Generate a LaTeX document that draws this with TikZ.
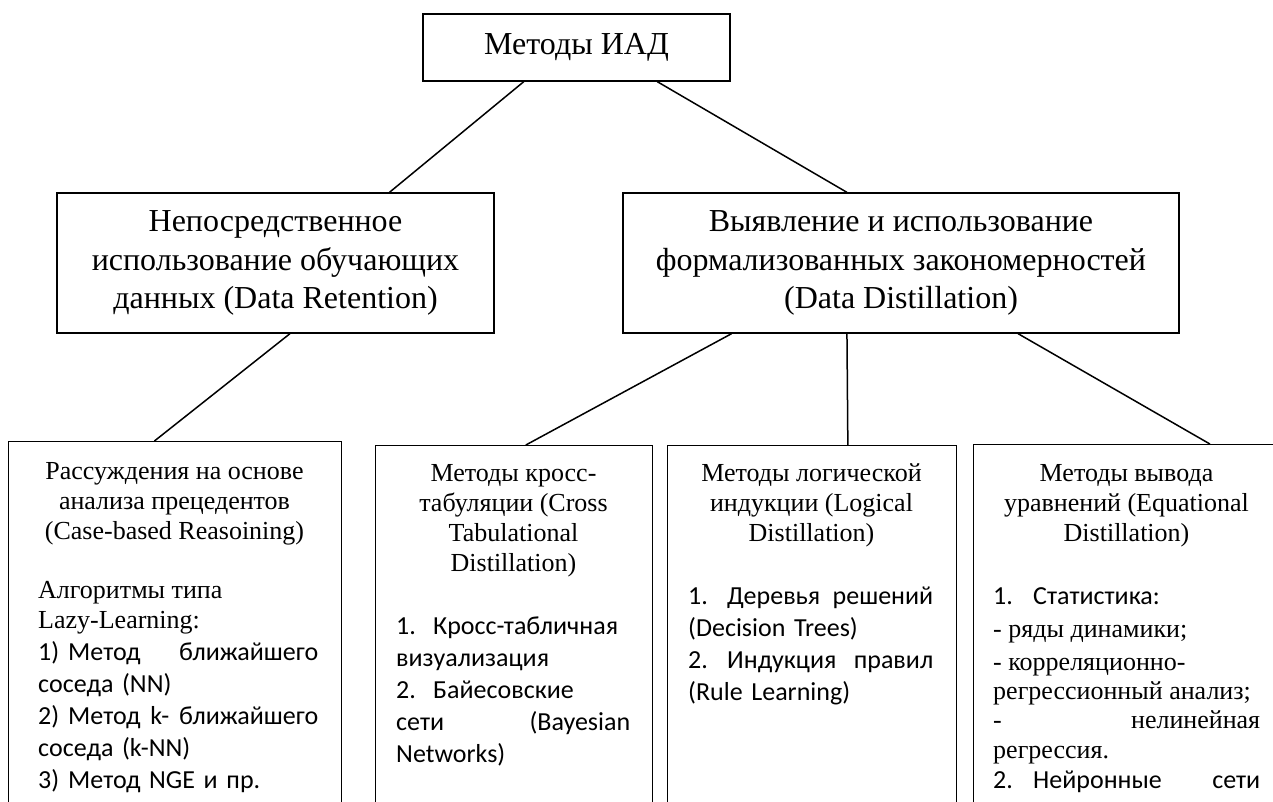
\documentclass[tikz,border=0pt]{standalone}
\usepackage{fontspec}
\setmainfont{Liberation Serif}
\newfontfamily\calfont{Carlito}
\usetikzlibrary{calc}
% stretch that beats the ragged-right glue: used for justified lines
\newcommand\jfill{\hspace{0pt plus 1filll}}
% list number set in a fixed-width slot (tab stop)
\newcommand\numlab[2]{\makebox[#1][l]{#2}}

\begin{document}
\begin{tikzpicture}[x=1pt,y=-1pt,
  frame/.style={draw=black, line width=1.3pt, inner sep=0pt, rectangle},
  link/.style={draw=black, line width=1.5pt},
  headtext/.style={font=\fontsize{32}{38.5}\selectfont, align=center},
  % multi-line nodes without text width: base = baseline of the last line
  subtitle/.style={font=\fontsize{26}{30}\selectfont, align=center, anchor=base, inner sep=0pt},
  sertext/.style={font=\fontsize{26}{30}\selectfont, align=left, anchor=base west, inner sep=0pt},
  % text-width nodes: base = baseline of the first line
  caltext/.style={font=\calfont\fontsize{26}{32}\selectfont, align=left, anchor=base west, inner sep=0pt},
]
\useasboundingbox (0,0) rectangle (1273,801);
\clip (0,0) rectangle (1273,801);

% upper levels
\node[frame, headtext, minimum width=307pt, minimum height=67pt] (root) at (576.5,47.5) {Методы ИАД};
\node[frame, headtext, minimum width=437pt, minimum height=140pt] (keep) at (275.5,263)
  {Непосредственное\\использование обучающих\\данных (Data Retention)};
\node[frame, headtext, minimum width=556pt, minimum height=140pt] (distil) at (901,263)
  {Выявление и использование\\формализованных закономерностей\\(Data Distillation)};

% lower level boxes (open towards the bottom edge)
\node[frame, anchor=north west, minimum width=333pt, minimum height=420pt] (cbr) at (8,441) {};
\node[frame, anchor=north west, minimum width=277pt, minimum height=420pt] (cross) at (375,445) {};
\node[frame, anchor=north west, minimum width=289pt, minimum height=420pt] (logic) at (667,445) {};
\node[frame, anchor=north west, minimum width=310pt, minimum height=420pt] (equa) at (973,444) {};

% connectors
\draw[link] ($(root.south west)!0.329!(root.south east)$) -- ($(keep.north west)!0.760!(keep.north east)$);
\draw[link] ($(root.south west)!0.762!(root.south east)$) -- ($(distil.north west)!0.403!(distil.north east)$);
\draw[link] ($(keep.south west)!0.533!(keep.south east)$) -- ($(cbr.north west)!0.438!(cbr.north east)$);
\draw[link] ($(distil.south west)!0.196!(distil.south east)$) -- ($(cross.north west)!0.542!(cross.north east)$);
\draw[link] ($(distil.south west)!0.403!(distil.south east)$) -- ($(logic.north west)!0.623!(logic.north east)$);
\draw[link] ($(distil.south west)!0.710!(distil.south east)$) -- ($(equa.north west)!0.761!(equa.north east)$);

% case-based reasoning
\node[subtitle] (cbrT) at (174.5,539) {Рассуждения на основе\\анализа прецедентов\\(Case-based Reasoining)};
\node[sertext] (cbrA) at (38,628) {Алгоритмы типа\\Lazy-Learning:};
\node[caltext, text width=280pt] (cbrL) at (38,660)
  {\numlab{30pt}{1)}Метод\jfill ближайшего\\
   соседа (NN)\\
   \numlab{30pt}{2)}Метод\jfill k-\jfill ближайшего\\
   соседа (k-NN)\\
   \numlab{30pt}{3)}Метод NGE и пр.};

% cross tabulation
\node[subtitle] (crossT) at (513.5,571) {Методы кросс-\\табуляции (Cross\\Tabulational\\Distillation)};
\node[caltext, text width=234pt] (crossL) at (396,634)
  {\numlab{37pt}{1.}Кросс-табличная\\
   визуализация\\
   \numlab{37pt}{2.}Байесовские\\
   сети\jfill(Bayesian\\
   Networks)};

% logical induction
\node[subtitle] (logicT) at (811.5,541) {Методы логической\\индукции (Logical\\Distillation)};
\node[caltext, text width=245pt] (logicL) at (688,604)
  {\numlab{39pt}{1.}Деревья\jfill решений\\
   (Decision Trees)\\
   \numlab{39pt}{2.}Индукция\jfill правил\\
   (Rule Learning)};

% equation methods
\node[subtitle] (equaT) at (1126.5,541) {Методы вывода\\уравнений (Equational\\Distillation)};
\node[caltext, text width=267pt] (eq1) at (993,604) {\numlab{40pt}{1.}Статистика:};
\node[sertext] (eq2) at (993,637) {- ряды динамики;};
\node[sertext] (eq3) at (993,670) {- корреляционно-};
\node[sertext] (eq4) at (993,699) {регрессионный анализ;};
\node[sertext, text width=267pt] (eq5) at (993,728) {-\jfill нелинейная};
\node[sertext] (eq6) at (993,758) {регрессия.};
\node[caltext, text width=267pt] (eq7) at (993,788) {\numlab{40pt}{2.}Нейронные\jfill сети};
\end{tikzpicture}
\end{document}
